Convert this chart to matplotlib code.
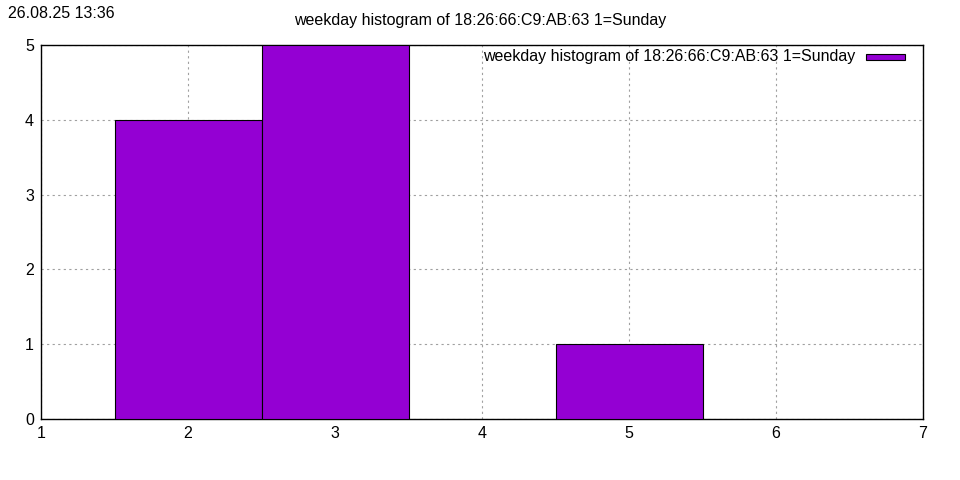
import numpy as np
import matplotlib.pyplot as plt
from matplotlib.patches import Rectangle

plt.rcParams['font.family'] = ['Liberation Sans', 'DejaVu Sans']

# histogram data: weekday (1=Sunday) -> count
days = [2, 3, 5]
counts = [4, 5, 1]
label = 'weekday histogram of 18:26:66:C9:AB:63 1=Sunday'
stamp = '26.08.25 13:36'
bar_color = '#9400d3'

fig = plt.figure(figsize=(9.6, 4.8), dpi=100)
ax = fig.add_axes([41 / 960, 61 / 480, 882 / 960, 374 / 480])

ax.bar(days, counts, width=1.0, color=bar_color, edgecolor='black', linewidth=0.8, zorder=3)

ax.set_xlim(1, 7)
ax.set_ylim(0, 5)
ax.set_xticks(range(1, 8))
ax.set_yticks(range(0, 6))
ax.tick_params(length=0, labelsize=11.5, pad=5)
ax.grid(True, color='#a0a0a0', linestyle=(0, (2, 3)), linewidth=0.8, zorder=0)
for s in ax.spines.values():
    s.set_linewidth(1.0)

# legend, gnuplot style: text right-aligned, small box sample
ax.text(855 / 960, 1 - 56 / 480, label, transform=fig.transFigure, ha='right', va='center', fontsize=11.5)
fig.patches.append(Rectangle((866 / 960, 1 - 60 / 480), 39 / 960, 6 / 480, transform=fig.transFigure,
                             facecolor=bar_color, edgecolor='black', linewidth=0.8))

fig.text(0.5, 1 - 21 / 480, label, ha='center', va='center', fontsize=11.5)
fig.text(8 / 960, 1 - 13 / 480, stamp, ha='left', va='center', fontsize=11.5)

fig.savefig('out.png', dpi=100)
